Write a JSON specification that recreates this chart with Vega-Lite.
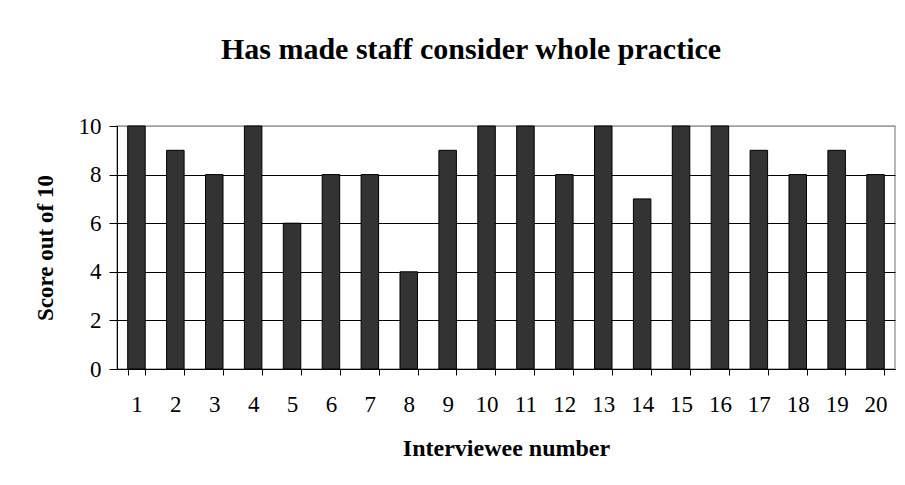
{
  "$schema": "https://vega.github.io/schema/vega-lite/v6.json",
  "autosize": {"type": "none"},
  "padding": {"left": 117, "top": 126, "right": 10, "bottom": 116},
  "width": 778,
  "height": 243,
  "background": "white",
  "title": {
    "text": "Has made staff consider whole practice",
    "font": "Liberation Serif",
    "fontSize": 30,
    "fontWeight": "bold",
    "color": "black",
    "anchor": "middle",
    "frame": "group",
    "dx": -35,
    "offset": 50
  },
  "data": {
    "values": [
      {"n": 1, "score": 10}, {"n": 2, "score": 9}, {"n": 3, "score": 8}, {"n": 4, "score": 10},
      {"n": 5, "score": 6}, {"n": 6, "score": 8}, {"n": 7, "score": 8}, {"n": 8, "score": 4},
      {"n": 9, "score": 9}, {"n": 10, "score": 10}, {"n": 11, "score": 10}, {"n": 12, "score": 8},
      {"n": 13, "score": 10}, {"n": 14, "score": 7}, {"n": 15, "score": 10}, {"n": 16, "score": 10},
      {"n": 17, "score": 9}, {"n": 18, "score": 8}, {"n": 19, "score": 9}, {"n": 20, "score": 8}
    ]
  },
  "mark": {"type": "bar", "fill": "#333333", "stroke": "black", "strokeWidth": 1},
  "encoding": {
    "x": {
      "field": "n",
      "type": "ordinal",
      "scale": {"paddingInner": 0.55, "paddingOuter": 0.275},
      "axis": {
        "title": "Interviewee number",
        "labelAngle": 0,
        "grid": false,
        "tickBand": "extent",
        "tickSize": 6,
        "tickColor": "black",
        "domainColor": "black",
        "labelFont": "Liberation Serif",
        "labelFontSize": 23,
        "labelColor": "black",
        "labelPadding": 18,
        "titleFont": "Liberation Serif",
        "titleFontSize": 24,
        "titleFontWeight": "bold",
        "titleColor": "black",
        "titlePadding": 20
      }
    },
    "y": {
      "field": "score",
      "type": "quantitative",
      "scale": {"domain": [0, 10], "nice": false},
      "axis": {
        "title": "Score out of 10",
        "values": [0, 2, 4, 6, 8, 10],
        "grid": true,
        "tickSize": 8,
        "tickColor": "black",
        "domainColor": "black",
        "gridColor": {"condition": {"test": "datum.value == 10", "value": "#a0a0a0"}, "value": "black"},
        "gridOpacity": 1,
        "labelFont": "Liberation Serif",
        "labelFontSize": 23,
        "labelColor": "black",
        "labelPadding": 8,
        "titleFont": "Liberation Serif",
        "titleFontSize": 23,
        "titleFontWeight": "bold",
        "titleColor": "black",
        "titlePadding": 21
      }
    }
  },
  "config": {
    "view": {"stroke": "#a0a0a0", "strokeWidth": 1.5}
  }
}
